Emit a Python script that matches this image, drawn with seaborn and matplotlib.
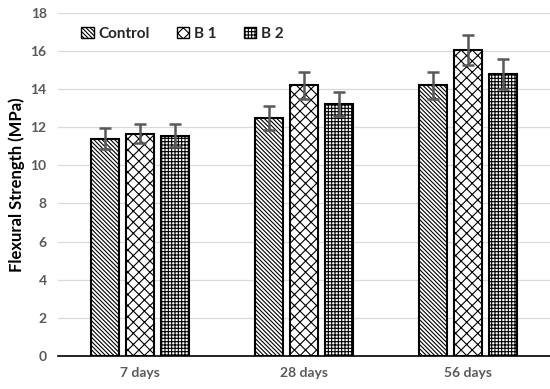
import matplotlib
matplotlib.use("Agg")
import matplotlib.pyplot as plt
import seaborn as sns
import pandas as pd
import numpy as np
from matplotlib.patches import Patch

ages = ["7 days", "28 days", "56 days"]
mixes = ["Control", "B 1", "B 2"]
control = [11.4, 12.5, 14.2]
b1 = [11.65, 14.2, 16.05]
b2 = [11.55, 13.2, 14.8]
control_err = [0.55, 0.63, 0.7]
b1_err = [0.5, 0.72, 0.77]
b2_err = [0.6, 0.63, 0.77]
yticks = [0, 2, 4, 6, 8, 10, 12, 14, 16, 18]

sns.set_theme(style="white")
plt.rcParams['font.family'] = ['Lato', 'DejaVu Sans']
plt.rcParams['hatch.linewidth'] = 0.8

rows = []
for mix, vals in zip(mixes, [control, b1, b2]):
    for a, v in zip(ages, vals):
        rows.append({"Age": a, "Mix": mix, "Strength": v})
df = pd.DataFrame(rows)

fig = plt.figure(figsize=(5.5, 3.89), dpi=100)
ax = fig.add_axes([0.105, 0.085, 0.895, 0.882])

sns.barplot(data=df, x="Age", y="Strength", hue="Mix", order=ages, hue_order=mixes,
            width=0.64, gap=0.2, errorbar=None, ax=ax, legend=False,
            palette=["white", "white", "white"], edgecolor="black", linewidth=1.5)

hatches = ["\\\\\\\\\\\\\\\\", "xxx", "+++++"]
errs = [control_err, b1_err, b2_err]
vals_all = [control, b1, b2]
bar_containers = list(ax.containers)
for i, cont in enumerate(bar_containers):
    xs = []
    for p in cont.patches:
        p.set_hatch(hatches[i])
        p.set_edgecolor("black")
        xs.append(p.get_x() + p.get_width() / 2)
    ax.errorbar(xs, vals_all[i], yerr=errs[i], fmt="none", ecolor="#595959",
                elinewidth=1.8, capsize=4, capthick=1.8, zorder=5)

ax.set_ylim(0, 18)
ax.set_yticks(yticks)
ax.set_xlim(-0.5, 2.5)
ax.yaxis.grid(True, color="#d9d9d9", linewidth=0.9)
ax.set_axisbelow(True)
for s in ["top", "right", "left"]:
    ax.spines[s].set_visible(False)
ax.spines["bottom"].set_color("black")
ax.spines["bottom"].set_linewidth(1.2)
ax.tick_params(axis="both", length=0, labelsize=10, labelcolor="#595959", pad=8)
for lab in ax.get_xticklabels() + ax.get_yticklabels():
    lab.set_fontweight("bold")
ax.set_xlabel("")
ax.set_ylabel("Flexural Strength (MPa)", fontsize=12, fontweight="bold", color="black", labelpad=4)

handles = [Patch(facecolor="white", edgecolor="black", hatch=h, label=m) for h, m in zip(hatches, mixes)]
ax.legend(handles=handles, loc="upper left", bbox_to_anchor=(0.02, 1.0), ncol=3, frameon=False,
          handlelength=0.8, handleheight=0.8, handletextpad=0.3, columnspacing=1.8,
          prop={"weight": "bold", "size": 11})

fig.savefig("out.png", dpi=100)
